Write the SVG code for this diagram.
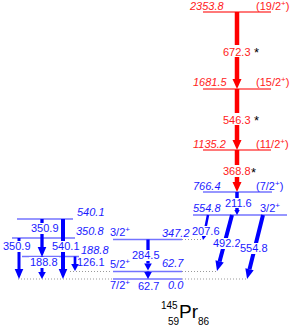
<svg xmlns="http://www.w3.org/2000/svg" width="291" height="326" viewBox="0 0 291 326">
<style>
text{font-family:"Liberation Sans",Arial,sans-serif;font-size:11px}
.r{fill:#ff1a1a}
.b{fill:#1a1aff}
.k{fill:#000}
.i{font-style:italic}
.sup{font-size:8px}
.star{font-size:13px}
.big{font-size:19px}
.idx{font-size:10px}
.lr{stroke:#ff4d4d;stroke-width:1.4}
.lb{stroke:#7373ff;stroke-width:1.4}
.dot{stroke:#999;stroke-width:1;stroke-dasharray:1 2}
.ar{stroke:#ff0000;fill:none}
.ab{stroke:#0000ff;fill:none}
.bg{fill:#fff}
</style>
<defs>
<marker id="hR" markerUnits="userSpaceOnUse" markerWidth="12" markerHeight="12" refX="0" refY="0" orient="auto" overflow="visible"><path d="M0,-4.5L10,0L0,4.5z" fill="#ff0000"/></marker>
<marker id="hB" markerUnits="userSpaceOnUse" markerWidth="12" markerHeight="12" refX="0" refY="0" orient="auto" overflow="visible"><path d="M0,-4.3L10,0L0,4.3z" fill="#0000ff"/></marker>
<marker id="hM" markerUnits="userSpaceOnUse" markerWidth="12" markerHeight="12" refX="0" refY="0" orient="auto" overflow="visible"><path d="M0,-3.8L7,0L0,3.8z" fill="#0000ff"/></marker>
<marker id="hS" markerUnits="userSpaceOnUse" markerWidth="12" markerHeight="12" refX="0" refY="0" orient="auto" overflow="visible"><path d="M0,-2.7L5,0L0,2.7z" fill="#0000ff"/></marker>
</defs>
<rect width="291" height="326" fill="#fff"/>

<g id="lev2353">
<line class="lr" x1="203" y1="12" x2="271" y2="12"/>
<text class="r i" x="190" y="9.5">2353.8</text>
<text class="r" x="256" y="9.5">(19/2<tspan class="sup" dy="-4">+</tspan><tspan dy="4">)</tspan></text>
</g>
<g id="lev1681">
<line class="lr" x1="203" y1="89" x2="271" y2="89"/>
<text class="r i" x="193" y="86">1681.5</text>
<text class="r" x="256" y="86">(15/2<tspan class="sup" dy="-4">+</tspan><tspan dy="4">)</tspan></text>
</g>
<g id="lev1135">
<line class="lr" x1="203" y1="150" x2="271" y2="150"/>
<text class="r i" x="193" y="147.5">1135.2</text>
<text class="r" x="256" y="147.5">(11/2<tspan class="sup" dy="-4">+</tspan><tspan dy="4">)</tspan></text>
</g>
<g id="lev766">
<line class="lb" x1="203" y1="192" x2="272" y2="192"/>
<text class="b i" x="193" y="190">766.4</text>
<text class="b" x="256" y="190">(7/2<tspan class="sup" dy="-4">+</tspan><tspan dy="4">)</tspan></text>
</g>
<g id="lev554">
<line class="lb" x1="193" y1="215" x2="287" y2="215"/>
<text class="b i" x="193" y="212">554.8</text>
<text class="b" x="260" y="212">3/2<tspan class="sup" dy="-4">+</tspan></text>
</g>
<g id="lev540">
<line class="lb" x1="17" y1="219" x2="73" y2="219"/>
<text class="b i" x="77" y="216">540.1</text>
</g>
<g id="lev350">
<line class="lb" x1="12" y1="238" x2="75" y2="238"/>
<text class="b i" x="76" y="235">350.8</text>
</g>
<g id="lev347">
<line class="lb" x1="113" y1="239.5" x2="182" y2="239.5"/>
<text class="b" x="110" y="236">3/2<tspan class="sup" dy="-4">+</tspan></text>
<text class="b i" x="162" y="237">347.2</text>
</g>
<g id="lev188">
<line class="lb" x1="22" y1="256.5" x2="79" y2="256.5"/>
<text class="b i" x="81" y="254">188.8</text>
</g>
<g id="lev62">
<line class="lb" x1="113" y1="271.5" x2="182" y2="271.5"/>
<text class="b" x="110" y="268">5/2<tspan class="sup" dy="-4">+</tspan></text>
<text class="b i" x="162" y="267">62.7</text>
</g>
<g id="lev0">
<line class="lb" x1="113" y1="279" x2="182" y2="279"/>
<text class="b" x="110" y="289">7/2<tspan class="sup" dy="-4">+</tspan></text>
<text class="b i" x="168" y="289">0.0</text>
</g>

<g id="connectors">
<line class="dot" x1="18" y1="279" x2="112" y2="279"/>
<line class="dot" x1="182" y1="279" x2="247" y2="279"/>
<line class="dot" x1="70" y1="271.5" x2="112" y2="271.5"/>
<line class="dot" x1="182" y1="271.5" x2="217" y2="271.5"/>
<line class="dot" x1="182" y1="239.5" x2="202" y2="239.5"/>

<line class="ar" stroke-width="4.5" x1="237" y1="12" x2="237" y2="79" marker-end="url(#hR)"/>
<line class="ar" stroke-width="4.5" x1="237" y1="89" x2="237" y2="140" marker-end="url(#hR)"/>
<line class="ar" stroke-width="4.5" x1="237" y1="150" x2="237" y2="182" marker-end="url(#hR)"/>

<line class="ab" stroke-width="3.5" x1="237" y1="192" x2="237" y2="210" marker-end="url(#hS)"/>
<line class="ab" stroke-width="2.5" x1="208" y1="215" x2="204" y2="235" marker-end="url(#hS)"/>
<line class="ab" stroke-width="4" x1="232" y1="215" x2="219.6" y2="261.4" marker-end="url(#hB)"/>
<line class="ab" stroke-width="4" x1="263" y1="215" x2="249.5" y2="269.3" marker-end="url(#hB)"/>
<line class="ab" stroke-width="3.3" x1="148" y1="239.5" x2="148" y2="263.5" marker-end="url(#hM)"/>
<line class="ab" stroke-width="3" x1="148" y1="271.5" x2="148" y2="272" marker-end="url(#hM)"/>
<line class="ab" stroke-width="4" x1="63" y1="219" x2="63" y2="269" marker-end="url(#hB)"/>
<line class="ab" stroke-width="3.3" x1="42" y1="219" x2="42" y2="247" marker-end="url(#hB)"/>
<line class="ab" stroke-width="3" x1="19" y1="238" x2="19" y2="269" marker-end="url(#hB)"/>
<line class="ab" stroke-width="3" x1="42" y1="256.5" x2="42" y2="272" marker-end="url(#hM)"/>
<line class="ab" stroke-width="2.7" x1="75" y1="256.5" x2="75" y2="264" marker-end="url(#hM)"/>

<rect class="bg" x="222" y="45" width="30" height="12"/>
<text class="r" x="223" y="55.5">672.3</text>
<rect class="bg" x="222" y="113" width="30" height="12"/>
<text class="r" x="223" y="123.5">546.3</text>
<rect class="bg" x="222" y="165" width="30" height="12"/>
<text class="r" x="223" y="175">368.8</text>
<text class="k star" x="254" y="57">*</text>
<text class="k star" x="254" y="125">*</text>
<text class="k star" x="251" y="177">*</text>

<rect class="bg" x="224" y="198" width="30" height="10"/>
<text class="b" x="225" y="207">211.6</text>
<rect class="bg" x="191" y="226" width="30" height="10"/>
<text class="b" x="192" y="235">207.6</text>
<rect class="bg" x="212" y="238" width="30" height="11"/>
<text class="b" x="213" y="247">492.2</text>
<rect class="bg" x="239" y="243" width="30" height="11"/>
<text class="b" x="240" y="252">554.8</text>
<rect class="bg" x="131" y="250" width="30" height="11"/>
<text class="b" x="132" y="259">284.5</text>
<rect class="bg" x="137" y="281" width="24" height="11"/>
<text class="b" x="138" y="290">62.7</text>
<rect class="bg" x="51" y="241" width="30" height="11"/>
<text class="b" x="52" y="250">540.1</text>
<rect class="bg" x="30" y="223" width="30" height="11"/>
<text class="b" x="31" y="232">350.9</text>
<rect class="bg" x="2" y="241" width="30" height="11"/>
<text class="b" x="3" y="250">350.9</text>
<rect class="bg" x="29" y="257" width="30" height="11"/>
<text class="b" x="30" y="266">188.8</text>
<text class="b" x="77" y="266">126.1</text>
</g>

<g id="nuclide">
<text class="k idx" x="161" y="309">145</text>
<text class="k idx" x="168" y="325">59</text>
<text class="k big" x="179" y="318">Pr</text>
<text class="k idx" x="198" y="325">86</text>
</g>
</svg>
